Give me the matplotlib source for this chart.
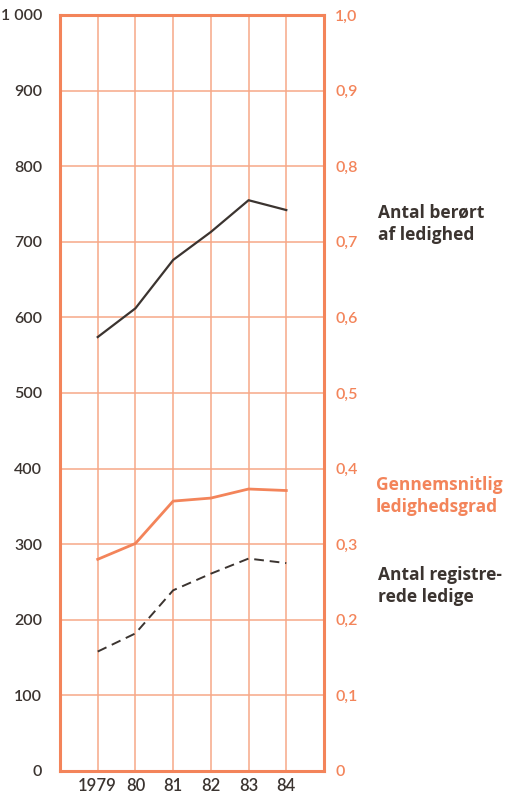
import matplotlib
matplotlib.use('Agg')
import matplotlib.pyplot as plt

# data
years = [1979, 1980, 1981, 1982, 1983, 1984]
year_labels = ['1979', '80', '81', '82', '83', '84']
beroert = [574, 612, 676, 713, 755, 742]          # antal berørt af ledighed (1000)
grad = [0.280, 0.301, 0.357, 0.361, 0.373, 0.371]  # gennemsnitlig ledighedsgrad
registrerede = [158, 182, 239, 261, 281, 275]      # antal registrerede ledige (1000)

left_ticks = [0, 100, 200, 300, 400, 500, 600, 700, 800, 900, 1000]
left_labels = ['0', '100', '200', '300', '400', '500', '600', '700', '800', '900', '1 000']
right_ticks = [0, 0.1, 0.2, 0.3, 0.4, 0.5, 0.6, 0.7, 0.8, 0.9, 1.0]
right_labels = ['0', '0,1', '0,2', '0,3', '0,4', '0,5', '0,6', '0,7', '0,8', '0,9', '1,0']

salmon = '#f3845a'
gridc = '#f7a887'
dark = '#3b3430'

plt.rcParams['font.family'] = ['Lato', 'DejaVu Sans']

fig = plt.figure(figsize=(5.25, 7.98), dpi=100)
ax = fig.add_axes([60/525, 27/798, 264/525, 756/798])
ax.set_xlim(1978, 1985)
ax.set_ylim(0, 1000)

# grid
ax.set_xticks(years)
ax.set_yticks(left_ticks)
ax.grid(True, color=gridc, lw=1.1)
ax.set_axisbelow(True)
for s in ax.spines.values():
    s.set_color(salmon)
    s.set_linewidth(2.2)

ax.set_xticklabels(year_labels, fontsize=12, color=dark, fontweight='semibold')
ax.set_yticklabels(left_labels, fontsize=11.5, color=dark, fontweight='semibold')
ax.tick_params(axis='both', length=0)
ax.tick_params(axis='x', pad=5)
ax.tick_params(axis='y', pad=13)

ax.plot(years, beroert, color=dark, lw=1.6)
ax.plot(years, registrerede, color=dark, lw=1.4, ls=(0, (5, 3)))

ax2 = ax.twinx()
ax2.set_ylim(0, 1.0)
ax2.set_yticks(right_ticks)
ax2.set_yticklabels(right_labels, fontsize=11.5, color=salmon, fontweight='semibold')
ax2.tick_params(axis='y', length=0, pad=8)
for s in ax2.spines.values():
    s.set_visible(False)
ax2.plot(years, grad, color=salmon, lw=2.0)

# series labels to the right
lab = dict(fontsize=12.5, fontweight='bold', va='center', ha='left',
           linespacing=1.35, family=['Open Sans', 'DejaVu Sans'])
fig.text(378/525, 1 - 224/798, 'Antal berørt\naf ledighed', color=dark, **lab)
fig.text(376/525, 1 - 496/798, 'Gennemsnitlig\nledighedsgrad', color=salmon, **lab)
fig.text(378/525, 1 - 586/798, 'Antal registre-\nrede ledige', color=dark, **lab)

fig.savefig('out.png', dpi=100)
